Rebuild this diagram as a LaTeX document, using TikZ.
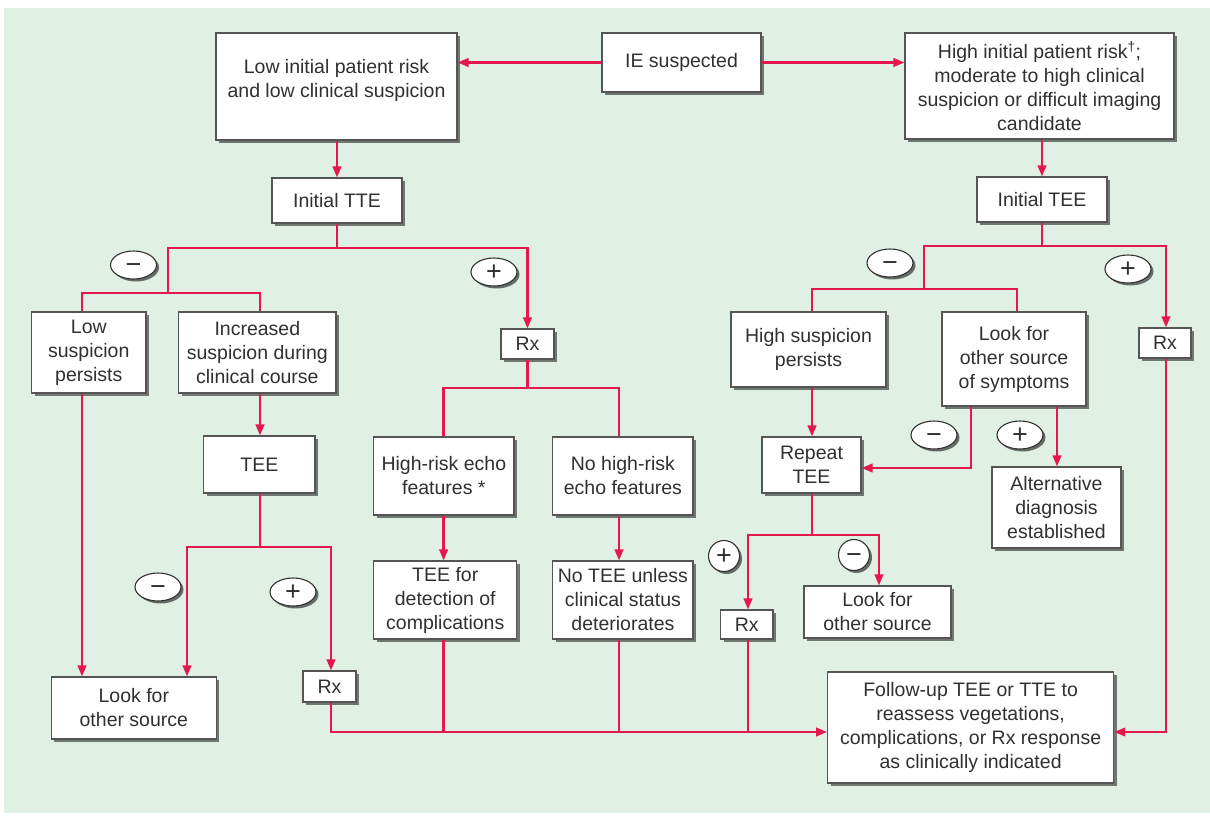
\documentclass[tikz,border=0pt]{standalone}
\usepackage{fontspec}
\setmainfont{Liberation Sans}
\usetikzlibrary{arrows.meta,shadows,shapes.geometric}
\definecolor{bg}{RGB}{224,240,229}
\definecolor{ln}{RGB}{228,24,76}
\definecolor{tx}{RGB}{48,48,48}
\definecolor{bd}{RGB}{85,85,85}
\newcommand\bx[6]{\node[box,minimum width={(#4-#2)*1pt},minimum height={(#5-#3)*1pt}] (#1) at ({(#2+#4)/2},{(#3+#5)/2}) {#6};}
\begin{document}
\begin{tikzpicture}[x=1pt,y=-1pt,
  box/.style={draw=bd,line width=1.1pt,fill=white,text=tx,align=center,inner sep=2pt,
    font=\fontsize{19.5}{24}\selectfont,
    drop shadow={shadow xshift=3pt,shadow yshift=-3pt,fill=black,opacity=0.5}},
  sg/.style={ellipse,draw=black!80,line width=1.1pt,fill=white,text=tx,inner sep=0pt,
    minimum width=46pt,minimum height=28pt,font=\fontsize{27}{27}\selectfont,
    text height=17.5pt,text depth=0pt,
    drop shadow={shadow xshift=2.5pt,shadow yshift=-2.5pt,fill=black,opacity=0.55}},
  sgc/.style={sg,circle,minimum size=31pt},
  wire/.style={draw=ln,line width=2.3pt},
  arr/.style={wire,-{Triangle[length=11pt,width=8.5pt]}}]
\useasboundingbox (0,0) rectangle (1210,815);
\fill[white] (0,0) rectangle (1210,815);
\fill[bg] (4,8) rectangle (1210,813);

% boxes
\bx{low}{216}{33}{457}{140}{Low initial patient risk\\and low clinical suspicion\\[-8pt]}
\bx{ie}{602}{33}{761}{92}{IE suspected}
\bx{high}{905}{33}{1174}{139}{High initial patient risk\textsuperscript{†};\\moderate to high clinical\\suspicion or difficult imaging\\candidate}
\bx{itte}{272}{178}{402}{223}{Initial TTE}
\bx{itee}{977}{177}{1107}{222}{Initial TEE}
\bx{lowsusp}{31.6}{312}{146}{393}{Low\\suspicion\\persists}
\bx{incr}{178.7}{312}{336}{393}{Increased\\suspicion during\\clinical course}
\bx{rx1}{501}{329}{554}{359}{Rx}
\bx{highsusp}{731}{312}{886}{387}{High suspicion\\persists}
\bx{looksym}{942}{312}{1086}{406}{Look for\\other source\\of symptoms}
\bx{rx2}{1139}{328}{1191}{358}{Rx}
\bx{tee}{203.6}{436}{315}{493}{TEE}
\bx{hrecho}{373.7}{437}{514}{515}{High-risk echo\\features *}
\bx{nohr}{552.8}{437}{693}{515}{No high-risk\\echo features}
\bx{tdet}{373.7}{561}{516.8}{639}{TEE for\\detection of\\complications}
\bx{notee}{552.8}{561}{693}{639}{No TEE unless\\clinical status\\deteriorates}
\bx{rtee}{762}{437}{861}{493}{Repeat\\TEE}
\bx{alt}{992}{467}{1121}{548}{Alternative\\diagnosis\\established}
\bx{lookl}{51.4}{677}{216.3}{739}{Look for\\other source}
\bx{rx3}{303}{671}{356}{702}{Rx}
\bx{rx4}{720.6}{610}{773}{639}{Rx}
\bx{lookr}{804}{586}{951}{638}{Look for\\other source}
\bx{fu}{827.6}{672}{1113.6}{783}{Follow-up TEE or TTE to\\reassess vegetations,\\complications, or Rx response\\as clinically indicated}

% junction coordinates
\coordinate (L1) at (168,248);
\coordinate (R1) at (527.5,248);
\coordinate (L2) at (168,293);
\coordinate (a1) at (82,293);
\coordinate (a2) at (260,293);
\coordinate (b0) at (260,547);
\coordinate (b1) at (187,547);
\coordinate (b2) at (331,547);
\coordinate (c0) at (527.5,388);
\coordinate (c1) at (443.6,388);
\coordinate (c2) at (619,388);
\coordinate (d1) at (331,732);
\coordinate (f1) at (924,246);
\coordinate (f2) at (1166,246);
\coordinate (g0) at (924,289);
\coordinate (g1) at (812,289);
\coordinate (g2) at (1017,289);
\coordinate (h1) at (971,468);
\coordinate (h2) at (1057,468);
\coordinate (e0) at (812,535);
\coordinate (e1) at (748,535);
\coordinate (e2) at (879,535);

% connectors
\draw[arr] (ie.west) -- (ie.west -| low.east);
\draw[arr] (ie.east) -- (ie.east -| high.west);
\draw[arr] (itte.north |- low.south) -- (itte.north);
\draw[arr] (itee.north |- high.south) -- (itee.north);

\draw[wire] (itte.south) -- (itte.south |- L1);
\draw[arr] (L2) -- (L1) -- (R1) -- (R1 |- rx1.north);
\draw[wire] (a1 |- lowsusp.north) -- (a1) -- (a2) -- (a2 |- incr.north);
\draw[arr] (a2 |- incr.south) -- (a2 |- tee.north);
\draw[arr] (a1 |- lowsusp.south) -- (a1 |- lookl.north);

\draw[wire] (b0 |- tee.south) -- (b0);
\draw[arr] (b0) -- (b1) -- (b1 |- lookl.north);
\draw[arr] (b0) -- (b2) -- (b2 |- rx3.north);

\draw[wire] (c0 |- rx1.south) -- (c0);
\draw[wire] (c1 |- hrecho.north) -- (c1) -- (c2) -- (c2 |- nohr.north);
\draw[arr] (c1 |- hrecho.south) -- (c1 |- tdet.north);
\draw[arr] (c2 |- nohr.south) -- (c2 |- notee.north);

\draw[arr] (b2 |- rx3.south) -- (d1) -- (d1 -| fu.west);
\draw[wire] (c1 |- tdet.south) -- (c1 |- d1);
\draw[wire] (c2 |- notee.south) -- (c2 |- d1);
\draw[wire] (e1 |- rx4.south) -- (e1 |- d1);

\draw[wire] (itee.south) -- (itee.south |- f1);
\draw[arr] (g0) -- (f1) -- (f2) -- (f2 |- rx2.north);
\draw[wire] (g1 |- highsusp.north) -- (g1) -- (g2) -- (g2 |- looksym.north);
\draw[arr] (g1 |- highsusp.south) -- (g1 |- rtee.north);
\draw[arr] (h1 |- looksym.south) -- (h1) -- (h1 -| rtee.east);
\draw[arr] (h2 |- looksym.south) -- (h2 |- alt.north);

\draw[wire] (e0 |- rtee.south) -- (e0);
\draw[arr] (e0) -- (e1) -- (e1 |- rx4.north);
\draw[arr] (e0) -- (e2) -- (e2 |- lookr.north);
\draw[arr] (f2 |- rx2.south) -- (f2 |- d1) -- (d1 -| fu.east);

% sign labels
\node[sg] (m1) at (133.5,265) {−};
\node[sg] (p1) at (494,272) {+};
\node[sg] (m2) at (890,263) {−};
\node[sg] (p2) at (1128,269) {+};
\node[sg] (m3) at (158,587) {−};
\node[sg] (p3) at (293,592) {+};
\node[sg] (m4) at (934,435) {−};
\node[sg] (p4) at (1020,435) {+};
\node[sgc] (p5) at (724,556) {+};
\node[sgc] (m5) at (854,555) {−};
\end{tikzpicture}
\end{document}
